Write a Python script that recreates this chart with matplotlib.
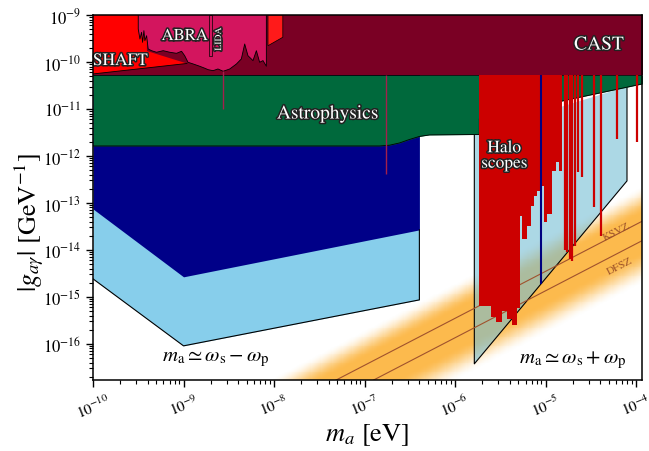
import numpy as np
import matplotlib
matplotlib.use("Agg")
import matplotlib.pyplot as plt
import matplotlib.patheffects as pe
from matplotlib.colors import LinearSegmentedColormap
from matplotlib.ticker import LogLocator, NullFormatter, LogFormatterMathtext

plt.rcParams["font.family"] = "STIXGeneral"
plt.rcParams["mathtext.fontset"] = "stix"

# axis range
M_LIM = (1e-10, 1.16e-4)
G_LIM = (1.7e-17, 1e-9)

# CAST / helioscope bound
cast_g = 5.3e-11

# astrophysics (lower edge)
astro_m = [1e-10, 1.46e-7, 1.88e-7, 2.43e-7, 3.13e-7, 4.03e-7, 5.2e-7, 1.85e-6, 1.85e-6, 1.52e-5, 1.2e-4]
astro_g = [1.63e-12, 1.63e-12, 1.69e-12, 1.89e-12, 2.24e-12, 2.60e-12, 2.80e-12, 2.86e-12, 6.2e-12, 1.48e-11, 3.45e-11]

# SHAFT
shaft_m = [1e-10, 3.94e-10, 3.94e-10, 1.09e-9, 1e-10]
shaft_g = [1e-9, 1e-9, 1.71e-10, 9.29e-11, 5.56e-11]

# ABRA (jagged lower edge)
abra_m = [3.16e-10, 3.30e-10, 3.44e-10, 3.53e-10, 3.65e-10, 3.74e-10, 3.91e-10, 4.07e-10, 4.43e-10,
          5.03e-10, 5.96e-10, 7.06e-10, 8.37e-10, 9.51e-10, 1.03e-9, 1.12e-9, 1.28e-9, 1.51e-9,
          1.72e-9, 1.87e-9, 2.12e-9, 2.40e-9, 2.74e-9, 3.24e-9, 3.84e-9, 4.35e-9, 4.74e-9,
          5.15e-9, 5.85e-9, 6.38e-9, 6.93e-9, 7.55e-9, 8.22e-9]
abra_g = [5.03e-10, 3.08e-10, 4.28e-10, 2.62e-10, 4.64e-10, 2.84e-10, 3.63e-10, 1.89e-10, 1.74e-10,
          1.61e-10, 1.74e-10, 1.61e-10, 1.53e-10, 1.69e-10, 1.36e-10, 9.86e-11, 9.06e-11, 8.11e-11,
          7.35e-11, 6.86e-11, 6.53e-11, 7.10e-11, 6.34e-11, 7.10e-11, 9.06e-11, 1.16e-10, 2.42e-10,
          1.36e-10, 1.07e-10, 1.74e-10, 9.86e-11, 1.07e-10, 8.11e-11]

# LIDA strip
lida_m = [1.90e-9, 2.05e-9]
lida_g_low = 1.36e-10

# small red block next to ABRA
block_m = [8.57e-9, 1.25e-8, 1.25e-8, 8.57e-9]
block_g = [1e-9, 1e-9, 3.36e-10, 2.22e-10]

# thin vertical limits
thin_m = [2.71e-9, 1.74e-7]
thin_top = [6.5e-11, 5.3e-11]
thin_low = [1.0e-11, 4.14e-13]

# navy / sky-blue lower-left regions
navy_m = [1e-10, 1e-9, 4.03e-7]
navy_low = [7.45e-14, 2.67e-15, 2.67e-14]
sky_low = [2.42e-15, 9.06e-17, 8.63e-16]

# haloscope envelope box
box_m = [1.63e-6, 1.63e-6, 7.92e-5, 7.92e-5]
box_g = [3e-12, 3.75e-17, 2.94e-13, 3e-11]

# haloscope limits (step edges and lower values)
halo_edges = [1.85e-6, 2.51e-6, 2.84e-6, 3.31e-6, 3.77e-6, 4.28e-6, 4.85e-6, 5.24e-6, 5.51e-6, 6.25e-6,
              6.92e-6, 7.46e-6, 8.05e-6, 8.91e-6, 9.62e-6, 1.04e-5, 1.18e-5, 1.31e-5, 1.41e-5, 1.52e-5]
halo_low = [6.44e-16, 3.75e-16, 2.94e-16, 5.04e-16, 3.40e-16, 2.54e-16, 5.83e-16, 5.28e-14, 1.71e-14,
            3.24e-14, 8.63e-14, 1.41e-13, 1.80e-13, 2.30e-13, 3.94e-14, 5.83e-14, 4.80e-13, 7.45e-13, 4.80e-13]
streak_m = [1.62e-5, 1.72e-5, 1.85e-5, 1.98e-5, 2.12e-5, 2.30e-5, 2.50e-5, 3.43e-5, 4.09e-5, 6.14e-5, 1.02e-4]
streak_low = [1.0e-14, 9.0e-15, 6.4e-15, 5.8e-15, 1.2e-14, 4.5e-13, 3.6e-13, 8.2e-14, 2.0e-14, 2.3e-12, 2.0e-12]
blue_m = 8.9e-6
blue_low = 1.89e-15

# QCD axion band, g/m ratios [GeV^-1 / eV]
ksvz_ratio = 3.5e-10
dfsz_ratio = 1.35e-10
band_core = (-10.1, -9.3)   # log10(g/m)
band_edge = (-10.8, -8.7)

fig = plt.figure(figsize=(6.49, 4.52), dpi=100)
ax = fig.add_axes([93 / 649, 1 - 381 / 452, (642 - 93) / 649, (381 - 16) / 452])
ax.set_xscale("log")
ax.set_yscale("log")
ax.set_xlim(*M_LIM)
ax.set_ylim(*G_LIM)

# band gradient
mm = np.logspace(-10, -3.9, 500)
gg = np.logspace(-17, -9, 420)
MM, GG = np.meshgrid(mm, gg)
r = np.log10(GG / MM)
t_lo = np.clip((r - band_edge[0]) / (band_core[0] - band_edge[0]), 0, 1)
t_hi = np.clip((band_edge[1] - r) / (band_edge[1] - band_core[1]), 0, 1)
t = np.minimum(t_lo, t_hi)
t = t * t * (3 - 2 * t)
c = (0.99, 0.73, 0.30)
band_cmap = LinearSegmentedColormap.from_list("band", [(*c, 0.0), (*c, 1.0)])
ax.pcolormesh(mm, gg, t, cmap=band_cmap, vmin=0, vmax=1, shading="auto", zorder=1, rasterized=True)

# haloscope envelope
ax.fill(box_m, box_g, color="#76bed5", alpha=0.6, lw=0, zorder=2)
ax.plot(box_m, box_g, color="black", lw=0.8, zorder=2.1)

ax.plot(mm, ksvz_ratio * mm, color="#a0522d", lw=0.8, zorder=2.5)
ax.plot(mm, dfsz_ratio * mm, color="#a0522d", lw=0.8, zorder=2.5)

# lower-left regions
ax.fill_between(navy_m, sky_low, cast_g, color="#87ceeb", lw=0, zorder=3)
ax.fill_between(navy_m, navy_low, cast_g, color="#000088", lw=0, zorder=3.05)
ax.plot(navy_m + [navy_m[-1]], sky_low + [navy_low[-1]], color="black", lw=0.8, zorder=3.1)

# astrophysics
ax.fill_between(astro_m, astro_g, cast_g, color="#00693c", lw=0, zorder=3.2)
ax.plot(astro_m, astro_g, color="black", lw=0.6, zorder=3.25)

# CAST
ax.fill_between([1e-10, 1.2e-4], cast_g, 1e-9, color="#7a0024", lw=0, zorder=3.3)
ax.plot([1e-10, 1.2e-4], [cast_g, cast_g], color="black", lw=0.6, zorder=3.35)

# SHAFT, ABRA, LIDA
ax.fill(shaft_m, shaft_g, color="#ff0000", lw=0, zorder=4)
ax.plot(shaft_m[3:], shaft_g[3:], color="black", lw=0.6, zorder=4.05)
abra_poly_m = [abra_m[0]] + abra_m + [abra_m[-1]]
abra_poly_g = [1e-9] + abra_g + [1e-9]
ax.fill(abra_poly_m, abra_poly_g, color="#d3155e", lw=0, zorder=4.2)
ax.plot(abra_poly_m, abra_poly_g, color="black", lw=0.6, zorder=4.25)
ax.fill([lida_m[0], lida_m[1], lida_m[1], lida_m[0]], [1e-9, 1e-9, lida_g_low, lida_g_low],
        facecolor="#d3155e", edgecolor="black", lw=0.5, zorder=4.3)
ax.fill(block_m, block_g, facecolor="#ff1a1a", edgecolor="black", lw=0.5, zorder=4.2)
ax.vlines(thin_m, thin_low, thin_top, color="#a3204c", lw=1.0, zorder=5)

# haloscopes
ax.fill_between(halo_edges, halo_low + [halo_low[-1]], cast_g, step="post", color="#cc0000", lw=0, zorder=5)
ax.vlines(streak_m, streak_low, cast_g, color="#cc0000", lw=1.6, zorder=5)
ax.vlines([blue_m], [blue_low], [cast_g], color="#000080", lw=1.5, zorder=5.5)

# labels
outline = [pe.withStroke(linewidth=2.2, foreground="#222222")]
lab = dict(color="white", ha="center", va="center", zorder=8, path_effects=outline)
ax.text(2.0e-10, 1.05e-10, "SHAFT", fontsize=12.5, **lab)
ax.text(1.03e-9, 3.57e-10, "ABRA", fontsize=12, **lab)
ax.text(2.42e-9, 3.08e-10, "LIDA", fontsize=7, rotation=90, **lab)
ax.text(3.89e-5, 2.30e-10, "CAST", fontsize=14, **lab)
ax.text(3.9e-8, 7.83e-12, "Astrophysics", fontsize=14, **lab)
ax.text(3.49e-6, 1.0e-12, "Halo\nscopes", fontsize=12.5, linespacing=0.95, **lab)

ax.text(2.25e-9, 4.9e-17, r"$m_\mathrm{a} \simeq \omega_\mathrm{s} - \omega_\mathrm{p}$",
        fontsize=15, ha="center", va="center", zorder=8)
ax.text(2.0e-5, 4.6e-17, r"$m_\mathrm{a} \simeq \omega_\mathrm{s} + \omega_\mathrm{p}$",
        fontsize=15, ha="center", va="center", zorder=8)
ax.text(5.98e-5, 2.5e-14, "KSVZ", fontsize=8, color="#9a5028", alpha=0.95, rotation=27,
        ha="center", va="center", zorder=8)
ax.text(6.62e-5, 4.6e-15, "DFSZ", fontsize=8, color="#9a5028", alpha=0.95, rotation=27,
        ha="center", va="center", zorder=8)

# axes
for axis in (ax.xaxis, ax.yaxis):
    axis.set_major_locator(LogLocator(base=10, numticks=20))
    axis.set_minor_locator(LogLocator(base=10, subs=np.arange(2, 10), numticks=20))
    axis.set_minor_formatter(NullFormatter())
    axis.set_major_formatter(LogFormatterMathtext())
ax.tick_params(which="major", length=5, width=1.0, labelsize=12)
ax.tick_params(axis="x", which="major", labelsize=11)
ax.tick_params(which="minor", length=3, width=0.8)
plt.setp(ax.get_xticklabels(), rotation=22)
for s in ax.spines.values():
    s.set_linewidth(1.1)
    s.set_zorder(10)

ax.set_xlabel(r"$m_a$ [eV]", fontsize=19, labelpad=0)
ax.set_ylabel(r"$|g_{a\gamma}|$ [GeV$^{-1}$]", fontsize=19)
ax.yaxis.set_label_coords(-0.085, 0.435)

fig.savefig("out.png", dpi=100)
